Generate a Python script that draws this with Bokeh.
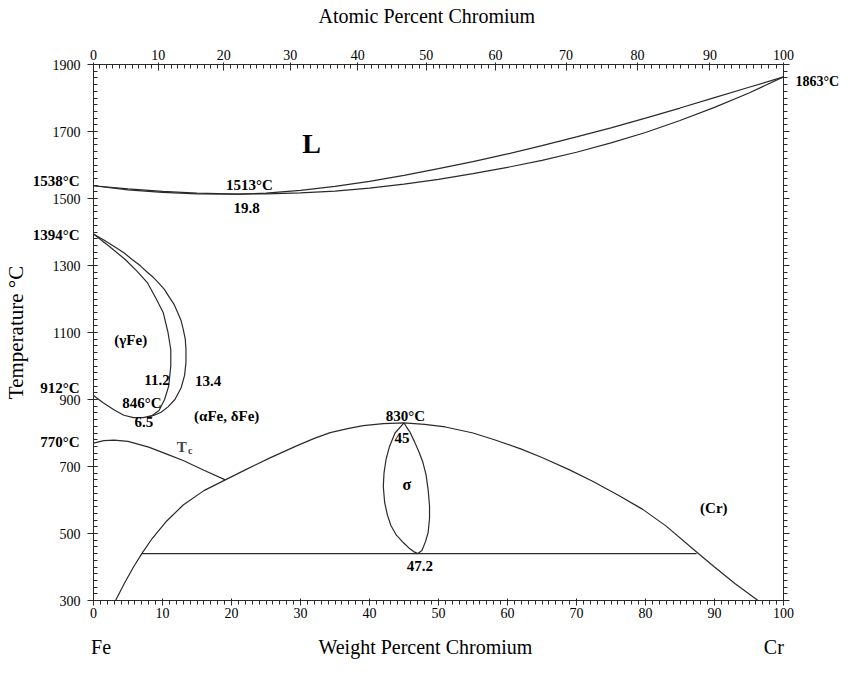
import math, json
from bokeh.plotting import figure
from bokeh.models import Range1d, LinearAxis, FixedTicker, Label, CustomJSTickFormatter
from bokeh.embed import file_html
from bokeh.resources import INLINE

# ---------------- data (weight % Cr, temperature in deg C) ----------------
liquidus_w = [0, 5, 10, 15, 21, 25, 30, 35, 40, 45, 50, 55, 60, 65, 70, 75, 80, 85, 90, 95, 100]
liquidus_t = [1538, 1529, 1521, 1516, 1513, 1516, 1524, 1536, 1551, 1569, 1589, 1610, 1633, 1658, 1684, 1711, 1740, 1770, 1801, 1832, 1863]

solidus_w = [0, 5, 10, 15, 21, 25, 30, 35, 40, 45, 50, 55, 60, 65, 70, 75, 80, 85, 90, 95, 100]
solidus_t = [1538, 1526, 1518, 1514, 1513, 1514, 1517, 1522, 1531, 1543, 1557, 1574, 1593, 1614, 1638, 1666, 1697, 1733, 1772, 1815, 1863]

gamma_outer_w = [0, 1.5, 3, 4.4, 5.6, 6.8, 7.8, 8.7, 9.4, 10.3, 11.0, 11.7, 12.2, 12.7, 13.0, 13.3, 13.4, 13.4, 13.2, 12.7, 11.8, 10.8, 9.8, 8.8, 8.0]
gamma_outer_t = [1394, 1376, 1357, 1338, 1318, 1299, 1280, 1264, 1249, 1228, 1205, 1183, 1160, 1135, 1110, 1080, 1049, 1010, 972, 935, 900, 878, 862, 853, 848]

gamma_inner_w = [0, 2.4, 4.6, 6.3, 7.8, 9.1, 10.1, 10.8, 11.2, 11.2, 10.9, 10.3, 9.5, 8.5, 7.2, 5.8, 4.4, 2.9, 1.4, 0]
gamma_inner_t = [1394, 1355, 1318, 1283, 1249, 1200, 1160, 1100, 1049, 1000, 940, 900, 867, 852, 846, 846, 853, 870, 890, 912]

curie_w = [0, 1.5, 3, 5, 8, 11, 13, 16, 19.1]
curie_t = [770, 777, 779, 775, 758, 734, 718, 689, 660]

dome_w = [3.2, 4.5, 5.8, 7.0, 8.5, 10.5, 13, 16, 19.1, 22, 25.5, 29.6, 32, 34.3, 37, 39.1, 42, 45, 48, 51, 55, 58.1, 62, 65, 69, 72.4, 76, 79.6, 83, 87.4, 90, 93, 96.3]
dome_t = [300, 352, 400, 440, 485, 535, 585, 628, 660, 690, 725, 763, 784, 801, 814, 822, 828, 830, 826, 818, 800, 780, 752, 727, 690, 655, 615, 572, 522, 445, 400, 350, 300]

eutectoid_w = [7.0, 87.4]
eutectoid_t = [440, 440]

sigma_w = [45, 43.7, 42.9, 42.4, 42.1, 42.0, 42.2, 42.6, 43.1, 43.9, 44.9, 45.7, 46.4, 47.0,
           47.6, 48.1, 48.5, 48.7, 48.7, 48.5, 48.2, 47.7, 47.2, 46.5, 45.8, 45.3, 45]
sigma_t = [830, 800, 760, 721, 680, 640, 592, 555, 524, 495, 473, 457, 446, 440,
           449, 475, 503, 545, 583, 630, 675, 715, 742, 775, 805, 820, 830]

temp_ticks = [300, 500, 700, 900, 1100, 1300, 1500, 1700, 1900]
temp_minor = list(range(300, 1901, 20))
wt_ticks = [0, 10, 20, 30, 40, 50, 60, 70, 80, 90, 100]
wt_minor = list(range(0, 101, 1))
at_ticks = [0, 10, 20, 30, 40, 50, 60, 70, 80, 90, 100]
at_minor = list(range(0, 101, 1))

# special temperatures written beside the axes: (position on the axis, text)
left_special = [(1552, "1538\u00b0C"), (1392, "1394\u00b0C"), (933, "912\u00b0C"), (772, "770\u00b0C")]
right_special = [(1850, "1863\u00b0C")]
bottom_names = [(1.1, "Fe"), (48.1, "Weight Percent Chromium"), (98.6, "Cr")]
top_names = [(48.3, "Atomic Percent Chromium")]

M_CR, M_FE = 51.996, 55.845
def at_to_wt(a):
    return 100.0 * a * M_CR / (a * M_CR + (100 - a) * M_FE)

# annotations inside the diagram: (text, x wt%, y degC, size)
bold_labels = [
    ("L", 31.6, 1663, "28px"),
    ("1513\u00b0C", 22.6, 1541, "15px"),
    ("19.8", 22.2, 1472, "15px"),
    ("(\u03b3Fe)", 5.4, 1077, "15px"),
    ("11.2", 9.2, 958, "15px"),
    ("13.4", 16.6, 955, "15px"),
    ("846\u00b0C", 7.0, 889, "15px"),
    ("6.5", 7.3, 834, "15px"),
    ("(\u03b1Fe, \u03b4Fe)", 19.3, 850, "15px"),
    ("830\u00b0C", 45.2, 852, "15px"),
    ("45", 44.7, 786, "15px"),
    ("\u03c3", 45.4, 645, "16px"),
    ("47.2", 47.3, 404, "15px"),
    ("(Cr)", 89.9, 576, "15px"),
]

FONT = "Liberation Serif"
LINE = "#2a2a2a"

p = figure(width=842, height=661, x_range=Range1d(0, 100), y_range=Range1d(300, 1900),
           output_backend="svg", toolbar_location=None,
           x_axis_location=None, y_axis_location=None,
           min_border_left=85, min_border_right=57, min_border_top=64, min_border_bottom=61)
p.xgrid.visible = False
p.ygrid.visible = False
p.outline_line_color = None
p.background_fill_color = "white"
p.border_fill_color = "white"

def lookup_formatter(pairs, decimals):
    m = {("%.*f" % (decimals, k)): t for k, t in pairs}
    return CustomJSTickFormatter(code="const m = %s; const k = tick.toFixed(%d); return (k in m) ? m[k] : '';"
                                 % (json.dumps(m), decimals))

BLANK = "return '';"

def style_axis(ax, size="14px"):
    ax.axis_line_color = LINE
    ax.major_tick_line_color = LINE
    ax.minor_tick_line_color = LINE
    ax.major_label_text_font = FONT
    ax.major_label_text_font_size = size
    ax.major_label_text_color = "black"
    ax.axis_label_text_font = FONT
    ax.axis_label_text_font_style = "normal"
    ax.axis_label_text_color = "black"

def text_only(ax):
    ax.axis_line_color = None
    ax.major_tick_line_color = None
    ax.minor_tick_line_color = None
    ax.major_tick_out = 0
    ax.major_tick_in = 0
    ax.minor_tick_out = 0
    ax.minor_tick_in = 0

# ---- left: ticks, numbers, bold special temperatures, title
l1 = LinearAxis(ticker=FixedTicker(ticks=temp_ticks, minor_ticks=temp_minor),
                formatter=CustomJSTickFormatter(code=BLANK))
style_axis(l1)
l1.major_tick_out = 6
l1.major_tick_in = 4
l1.minor_tick_in = 4
l1.minor_tick_out = 0
l1.major_label_standoff = 0
p.add_layout(l1, "left")

l2 = LinearAxis(ticker=FixedTicker(ticks=temp_ticks, minor_ticks=[]))
style_axis(l2)
text_only(l2)
l2.major_label_standoff = 7
p.add_layout(l2, "left")

l3 = LinearAxis(ticker=FixedTicker(ticks=[k for k, _ in left_special], minor_ticks=[]),
                formatter=lookup_formatter(left_special, 0))
style_axis(l3, "15px")
text_only(l3)
l3.major_label_text_font_style = "bold"
l3.major_label_standoff = -30
l3.axis_label = "Temperature \u00b0C"
l3.axis_label_text_font_size = "21px"
l3.axis_label_standoff = 2
p.add_layout(l3, "left")

# ---- right: ticks and melting point of Cr
r1 = LinearAxis(ticker=FixedTicker(ticks=temp_ticks, minor_ticks=temp_minor),
                formatter=CustomJSTickFormatter(code=BLANK))
style_axis(r1)
r1.major_tick_out = 6
r1.major_tick_in = 0
r1.minor_tick_out = 4
r1.minor_tick_in = 0
r1.major_label_standoff = 0
p.add_layout(r1, "right")

r2 = LinearAxis(ticker=FixedTicker(ticks=[k for k, _ in right_special], minor_ticks=[]),
                formatter=lookup_formatter(right_special, 0))
style_axis(r2, "14px")
text_only(r2)
r2.major_label_text_font_style = "bold"
r2.major_label_standoff = 6
p.add_layout(r2, "right")

# ---- bottom: weight percent
b1 = LinearAxis(ticker=FixedTicker(ticks=wt_ticks, minor_ticks=wt_minor))
style_axis(b1, "14px")
b1.major_tick_out = 5
b1.major_tick_in = 2
b1.minor_tick_out = 4
b1.minor_tick_in = 0
b1.major_label_standoff = 2
p.add_layout(b1, "below")

b2 = LinearAxis(ticker=FixedTicker(ticks=[k for k, _ in bottom_names], minor_ticks=[]),
                formatter=lookup_formatter(bottom_names, 1))
style_axis(b2, "20px")
text_only(b2)
b2.major_label_standoff = 15
p.add_layout(b2, "below")

# ---- top: atomic percent
t1 = LinearAxis(ticker=FixedTicker(ticks=[at_to_wt(a) for a in at_ticks],
                                   minor_ticks=[at_to_wt(a) for a in at_minor]),
                formatter=CustomJSTickFormatter(
                    code="const a=(tick/51.996)/((tick/51.996)+(100-tick)/55.845)*100; return Math.round(a).toFixed(0);"))
style_axis(t1, "14px")
t1.major_tick_in = 6
t1.major_tick_out = 2
t1.minor_tick_in = 4
t1.minor_tick_out = 0
t1.major_label_standoff = 3
p.add_layout(t1, "above")

t2 = LinearAxis(ticker=FixedTicker(ticks=[k for k, _ in top_names], minor_ticks=[]),
                formatter=lookup_formatter(top_names, 1))
style_axis(t2, "20px")
text_only(t2)
t2.major_label_standoff = 20
p.add_layout(t2, "above")

# ---- curves
for xs, ys in [(liquidus_w, liquidus_t), (solidus_w, solidus_t), (gamma_outer_w, gamma_outer_t),
               (gamma_inner_w, gamma_inner_t), (curie_w, curie_t), (dome_w, dome_t),
               (eutectoid_w, eutectoid_t), (sigma_w, sigma_t)]:
    p.line(xs, ys, line_color=LINE, line_width=1.2)

for txt, x, y, sz in bold_labels:
    p.add_layout(Label(x=x, y=y, text=txt, text_font=FONT, text_font_style="bold",
                       text_font_size=sz, text_align="center", text_baseline="middle",
                       text_color="black"))

# T_c
p.add_layout(Label(x=12.8, y=758, text="T", text_font=FONT, text_font_style="bold",
                   text_font_size="15px", text_align="center", text_baseline="middle"))
p.add_layout(Label(x=14.0, y=748, text="c", text_font=FONT, text_font_style="bold",
                   text_font_size="10px", text_align="center", text_baseline="middle"))

open("out.html", "w").write(file_html(p, INLINE))
